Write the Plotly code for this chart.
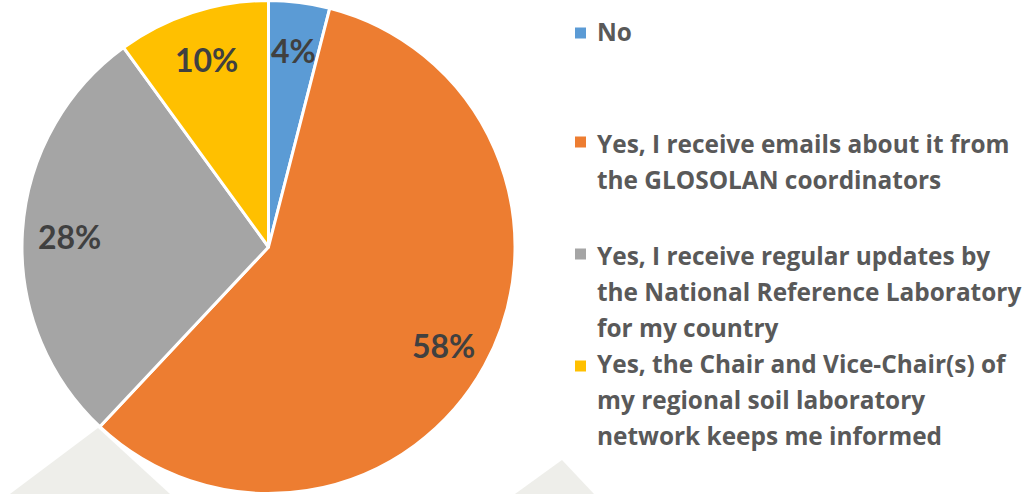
import math
import plotly.graph_objects as go

categories = [
    "No",
    "Yes, I receive emails about it from<br>the GLOSOLAN coordinators",
    "Yes, I receive regular updates by<br>the National Reference Laboratory<br>for my country",
    "Yes, the Chair and Vice-Chair(s) of<br>my regional soil laboratory<br>network keeps me informed",
]
values = [4, 58, 28, 10]
colors = ["#5B9BD5", "#ED7D31", "#A5A5A5", "#FFC000"]

W, H = 1029, 494
x0, x1 = 22 / W, 515 / W

fig = go.Figure()
fig.add_trace(go.Pie(
    labels=categories,
    values=values,
    sort=False,
    direction="clockwise",
    rotation=0,
    marker=dict(colors=colors, line=dict(color="white", width=3)),
    textinfo="none",
    hoverinfo="label+percent",
    domain=dict(x=[x0, x1], y=[0, 1]),
    showlegend=False,
))

# percentage labels placed at slice mid-angles (computed from values)
cx = (x0 + x1) / 2 * W
cy = H / 2
R = min((x1 - x0) * W, H) / 2
total = sum(values)
cum = 0
annotations = []
for v in values:
    mid = (cum + v / 2) / total * 2 * math.pi
    cum += v
    r = 0.81 * R
    px = cx + r * math.sin(mid)
    py = cy - r * math.cos(mid)
    annotations.append(dict(
        x=px / W, y=1 - (py + 2) / H, xref="paper", yref="paper",
        text="<b>%d%%</b>" % round(v / total * 100),
        showarrow=False, xanchor="center", yanchor="middle",
        font=dict(family="Lato", size=32, color="#404040"),
    ))

# manual legend (Excel-like spacing)
legend_line_y = [[31], [142.5, 178.5], [254, 290.5, 326], [362, 398.5, 434.5]]
legend_marker_y = [33, 142, 254, 366]
shapes = []
for cat, col, ys, my in zip(categories, colors, legend_line_y, legend_marker_y):
    shapes.append(dict(type="rect", xref="paper", yref="paper",
                       x0=575 / W, x1=586 / W, y0=1 - (my + 5.5) / H, y1=1 - (my - 5.5) / H,
                       fillcolor=col, line=dict(width=0)))
    for line, y in zip(cat.split("<br>"), ys):
        annotations.append(dict(
            x=595 / W, y=1 - (y + 1) / H, xref="paper", yref="paper",
            text="<b>%s</b>" % line, showarrow=False,
            xanchor="left", yanchor="middle",
            font=dict(family="Open Sans", size=24.4, color="#595959"),
        ))

# faint background watermark triangles
for pts in [[(10, 494), (98, 428), (170, 494)], [(515, 494), (562, 460), (594, 494)]]:
    path = "M " + " L ".join("%f,%f" % (x / W, 1 - y / H) for x, y in pts) + " Z"
    shapes.append(dict(type="path", xref="paper", yref="paper", path=path,
                       fillcolor="#EEEEEA", line=dict(width=0), layer="below"))

fig.update_layout(
    width=W, height=H,
    margin=dict(l=0, r=0, t=0, b=0),
    paper_bgcolor="white",
    plot_bgcolor="white",
    annotations=annotations,
    shapes=shapes,
)
fig.write_html("out.html", config={"displayModeBar": False},
               post_script="document.body.style.margin='0';document.body.style.overflow='hidden';")
